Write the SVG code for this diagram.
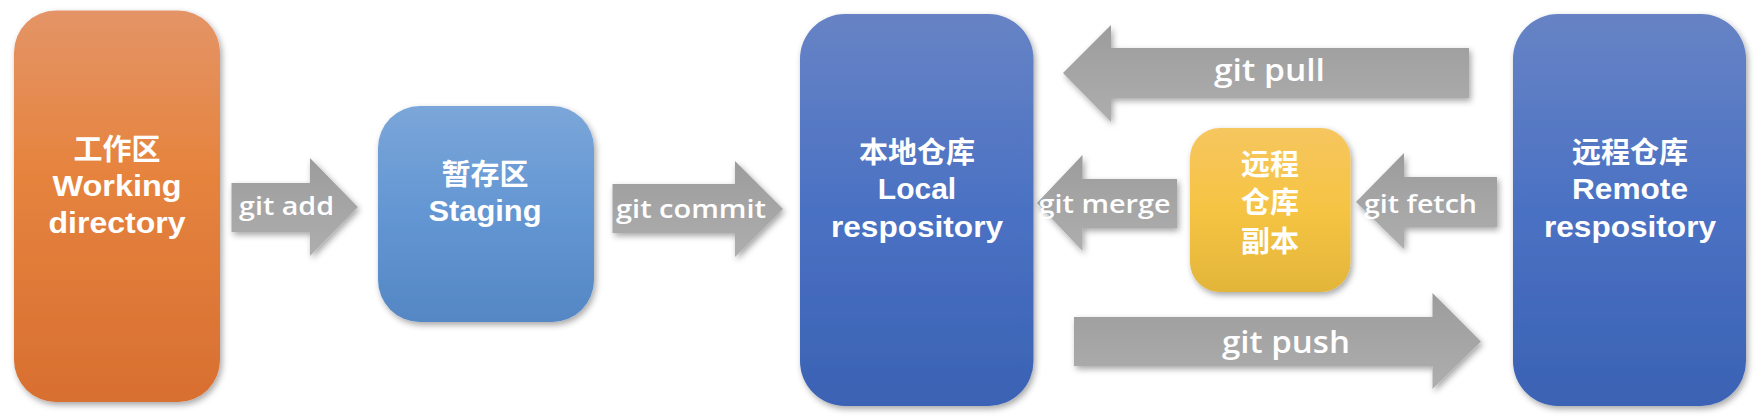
<svg xmlns="http://www.w3.org/2000/svg" width="1762" height="420" viewBox="0 0 1762 420">
<defs>
<linearGradient id="gOrange" x1="0" y1="0" x2="0" y2="1"><stop offset="0" stop-color="#E49467"/><stop offset="0.4" stop-color="#E6843F"/><stop offset="1" stop-color="#D86F31"/></linearGradient>
<linearGradient id="gStage" x1="0" y1="0" x2="0" y2="1"><stop offset="0" stop-color="#7BA6D9"/><stop offset="0.5" stop-color="#6396D3"/><stop offset="1" stop-color="#5487C4"/></linearGradient>
<linearGradient id="gBlue" x1="0" y1="0" x2="0" y2="1"><stop offset="0" stop-color="#6783C5"/><stop offset="0.5" stop-color="#4A71C3"/><stop offset="1" stop-color="#3B62B4"/></linearGradient>
<linearGradient id="gYellow" x1="0" y1="0" x2="0" y2="1"><stop offset="0" stop-color="#F6C65F"/><stop offset="0.5" stop-color="#F6C443"/><stop offset="1" stop-color="#E2B53A"/></linearGradient>
<linearGradient id="gArrow" x1="0" y1="0" x2="0" y2="1"><stop offset="0" stop-color="#9C9C9C"/><stop offset="1" stop-color="#AEAEAE"/></linearGradient>
<filter id="sh" x="-20%" y="-20%" width="140%" height="140%"><feDropShadow dx="2" dy="3" stdDeviation="3" flood-color="#000" flood-opacity="0.35"/></filter>
</defs>
<style>
.node text{font-family:"Liberation Sans","Noto Sans CJK SC",sans-serif;font-weight:bold;font-size:30px;fill:#fff;text-anchor:middle}
.node text.cjk{font-family:"Noto Sans CJK SC",sans-serif;font-size:29px}
.lbl{font-family:"Open Sans","Noto Sans",sans-serif;font-weight:600;font-size:25px;fill:#fff}
.big{font-size:30px}
.arrow{fill:url(#gArrow);filter:url(#sh)}
.box{filter:url(#sh)}
</style>
<g id="connectors">
<polygon class="arrow" points="231.5,183 310,183 310,158 357.8,207 310,256 310,232 231.5,232"/>
<text class="lbl" x="239" y="215" textLength="95" lengthAdjust="spacingAndGlyphs">git add</text>
<polygon class="arrow" points="612.5,184 735,184 735,161 783,209 735,257 735,233 612.5,233"/>
<text class="lbl" x="616" y="218" textLength="150" lengthAdjust="spacingAndGlyphs">git commit</text>
<polygon class="arrow" points="1469,48 1111,48 1111,25 1063,73 1111,122 1111,98 1469,98"/>
<text class="lbl big" x="1214" y="81" textLength="111" lengthAdjust="spacingAndGlyphs">git pull</text>
<polygon class="arrow" points="1177,179 1082.5,179 1082.5,155 1037,203 1082.5,251 1082.5,228 1177,228"/>
<text class="lbl" x="1038.5" y="213" textLength="132" lengthAdjust="spacingAndGlyphs">git merge</text>
<polygon class="arrow" points="1497,177 1404,177 1404,153 1356,202 1404,249 1404,227 1497,227"/>
<text class="lbl" x="1364" y="213" textLength="113" lengthAdjust="spacingAndGlyphs">git fetch</text>
<polygon class="arrow" points="1074,317 1432.5,317 1432.5,293 1481,341.5 1432.5,389 1432.5,366 1074,366"/>
<text class="lbl big" x="1222" y="353" textLength="128" lengthAdjust="spacingAndGlyphs">git push</text>
</g>
<g id="working" class="node">
<rect class="box" x="14" y="10.5" width="206" height="391.5" rx="42" fill="url(#gOrange)"/>
<text class="cjk" x="117" y="160">工作区</text>
<text x="117" y="196" textLength="129" lengthAdjust="spacingAndGlyphs">Working</text>
<text x="117" y="233" textLength="137" lengthAdjust="spacingAndGlyphs">directory</text>
</g>
<g id="staging" class="node">
<rect class="box" x="378" y="106" width="216" height="216" rx="42" fill="url(#gStage)"/>
<text class="cjk" x="485" y="185">暂存区</text>
<text x="485" y="221" textLength="113" lengthAdjust="spacingAndGlyphs">Staging</text>
</g>
<g id="local" class="node">
<rect class="box" x="800" y="14" width="233.5" height="392" rx="45" fill="url(#gBlue)"/>
<text class="cjk" x="917" y="163">本地仓库</text>
<text x="917" y="199">Local</text>
<text x="917" y="237" textLength="172" lengthAdjust="spacingAndGlyphs">respository</text>
</g>
<g id="copy" class="node">
<rect class="box" x="1190" y="128" width="160.5" height="164" rx="30" fill="url(#gYellow)"/>
<text class="cjk" x="1270" y="175">远程</text>
<text class="cjk" x="1270" y="213">仓库</text>
<text class="cjk" x="1270" y="252">副本</text>
</g>
<g id="remote" class="node">
<rect class="box" x="1513" y="14" width="233" height="392" rx="45" fill="url(#gBlue)"/>
<text class="cjk" x="1630" y="163">远程仓库</text>
<text x="1630" y="199" textLength="116" lengthAdjust="spacingAndGlyphs">Remote</text>
<text x="1630" y="237" textLength="172" lengthAdjust="spacingAndGlyphs">respository</text>
</g>
</svg>
